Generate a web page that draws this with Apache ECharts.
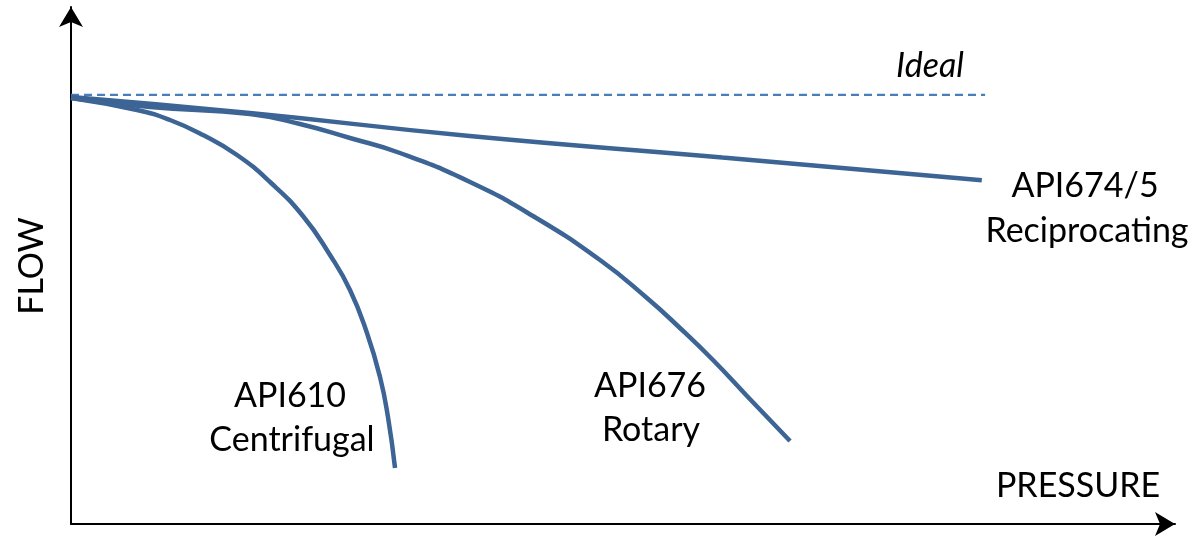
<!DOCTYPE html>
<html>
<head>
<meta charset="utf-8">
<script src="https://cdn.jsdelivr.net/npm/echarts@6/dist/echarts.min.js"></script>
<style>html,body{margin:0;padding:0;background:#fff}#c{width:1195px;height:536px}</style>
</head>
<body>
<div id="c"></div>
<script>
// Data (pressure %, flow %)
const idealLine = [[0, 83], [82.8, 83]];
const reciprocating = [[0, 82.6], [16.2, 79.5], [36.1, 75.05], [59.0, 70.9], [82.5, 66.5]];
const rotary = [[0, 82.4], [7.16, 80.66], [16.21, 79.3], [20.74, 77.37], [25.27, 74.66], [29.8, 71.76], [36.14, 66.15], [41.85, 59.57], [47.92, 51.06], [52.17, 43.71], [55.16, 37.91], [58.15, 31.72], [61.23, 24.76], [65.13, 16.05]];
const centrifugal = [[0, 82.4], [5.98, 80.08], [8.97, 78.14], [11.96, 75.24], [15.04, 71.37], [18.03, 66.15], [21.01, 59.57], [23.46, 52.03], [25.27, 45.26], [26.81, 36.94], [27.99, 28.43], [28.71, 20.7], [29.35, 10.83]];
const xAxisName = 'PRESSURE';
const yAxisName = 'FLOW';
const labels = {
  ideal: 'Ideal',
  recip: ['API674/5', 'Reciprocating'],
  rotary: ['API676', 'Rotary'],
  centri: ['API610', 'Centrifugal']
};

const chart = echarts.init(document.getElementById('c'));
const curveColor = '#3c6494';
const font = 'Lato, "Open Sans", sans-serif';
const fs = 34;
function txt(x, y, s, italic) {
  return { type: 'text', x: x, y: y, style: { text: s, font: (italic ? 'italic ' : '') + fs + 'px ' + font, fill: '#000', align: 'center', verticalAlign: 'middle' } };
}
const axisCommon = {
  type: 'value', min: 0, max: 100,
  axisLine: { show: true, symbol: ['none', 'arrow'], symbolSize: [18, 20], lineStyle: { color: '#000', width: 2 } },
  axisTick: { show: false }, axisLabel: { show: false }, splitLine: { show: false }
};
const curve = (d) => ({ type: 'line', data: d, symbol: 'none', smooth: 0.5, lineStyle: { color: curveColor, width: 4.5 } });
chart.setOption({
  animation: false,
  grid: { left: 71, right: 20, top: 7, bottom: 12 },
  xAxis: Object.assign({}, axisCommon),
  yAxis: Object.assign({}, axisCommon),
  series: [
    { type: 'line', data: idealLine, symbol: 'none', lineStyle: { color: '#4a7ebb', width: 2.2, type: [8, 5] } },
    curve(reciprocating),
    curve(rotary),
    curve(centrifugal)
  ],
  graphic: [
    txt(930, 66, labels.ideal, true),
    txt(1085, 186, labels.recip[0]),
    txt(1087, 231, labels.recip[1]),
    txt(650, 386, labels.rotary[0]),
    txt(651, 430, labels.rotary[1]),
    txt(290, 396, labels.centri[0]),
    txt(292, 440, labels.centri[1]),
    txt(1078, 486, xAxisName),
    { type: 'text', x: 32, y: 266, rotation: Math.PI / 2, style: { text: yAxisName, font: fs + 'px ' + font, fill: '#000', align: 'center', verticalAlign: 'middle' } }
  ]
});
</script>
</body>
</html>
